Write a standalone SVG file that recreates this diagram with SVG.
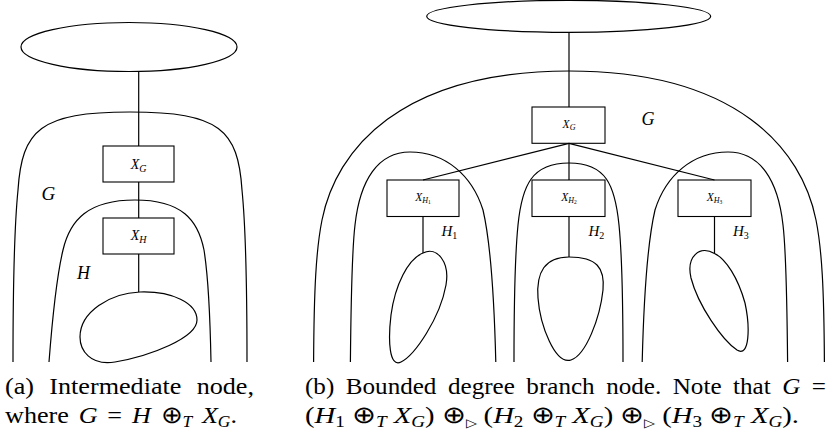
<svg xmlns="http://www.w3.org/2000/svg" width="834" height="436" viewBox="0 0 834 436">
<style>
.ln{fill:none;stroke:#000;stroke-width:1.2}
.bx{fill:none;stroke:#000;stroke-width:1.1}
.m{font-family:"Liberation Serif",serif;font-style:italic;fill:#000}
.up{font-style:normal}
.cap{font-family:"Liberation Serif",serif;font-size:24px;fill:#000}
.it{font-style:italic}
</style>
<rect width="834" height="436" fill="#fff"/>
<!-- (a) Intermediate node -->
<g id="a-regions">
<path id="a-G" class="ln" d="M13,362 C13,300 14,230 18,190 C22,130 40,112 130,112 C220,112 238,130 242,190 C246,230 247,300 247,362"/>
<path id="a-H" class="ln" d="M49,362 C53,310 57,275 63,250 C70,220 88,200 135,200 C182,200 198,220 204,250 C208,275 210,310 211,362"/>
</g>
<g id="a-connectors">
<line class="ln" x1="138.7" y1="71.5" x2="138.7" y2="146"/>
<line class="ln" x1="138.7" y1="182" x2="138.7" y2="218"/>
<line class="ln" x1="138.7" y1="254" x2="138.7" y2="292"/>
</g>
<g id="a-top"><ellipse class="ln" cx="129" cy="47" rx="108" ry="24.5"/></g>
<g id="a-XG"><rect class="bx" x="103" y="146" width="71" height="36"/>
<text class="m" x="138.7" y="169" font-size="14" text-anchor="middle">X<tspan font-size="10" dy="2.5">G</tspan></text></g>
<g id="a-XH"><rect class="bx" x="103" y="218" width="71" height="36"/>
<text class="m" x="138.7" y="240" font-size="14" text-anchor="middle">X<tspan font-size="10" dy="2.5">H</tspan></text></g>
<g id="a-blob"><path class="ln" d="M140,292 C172,291 197,303 197,320 C197,338 150,356 115,362 C90,366 80,350 80,337 C80,312 110,293 140,292 Z"/></g>
<text class="m" x="41.5" y="200" font-size="19">G</text>
<text class="m" x="77" y="279" font-size="18">H</text>
<text class="cap" x="5" y="394" word-spacing="8" textLength="249" lengthAdjust="spacingAndGlyphs">(a) Intermediate node,</text>
<text class="cap" x="5" y="423" word-spacing="3" textLength="232" lengthAdjust="spacingAndGlyphs">where <tspan class="it">G</tspan> = <tspan class="it">H</tspan> ⊕<tspan class="it" font-size="16" dy="4">T</tspan> <tspan dy="-4" class="it">X</tspan><tspan class="it" font-size="16" dy="4">G</tspan><tspan dy="-4">.</tspan></text>
<!-- (b) Bounded degree branch node -->
<g id="b-regions">
<path id="b-G" class="ln" d="M313.6,362 C314,290 316,250 322,220 C336,150 400,71 569,71 C738,71 802,150 816,220 C822,250 824,290 824.4,362"/>
<path id="b-H1" class="ln" d="M350.4,362 C351,300 352,250 355,225 C360,180 378,152 410,152 C445,152 472,175 483,210 C490,240 494,290 495.8,362"/>
<path id="b-H2" class="ln" d="M514,362 C514,300 515,255 518,225 C522,185 532,163 569,163 C606,163 615,185 619,225 C622,255 623,300 623,362"/>
<path id="b-H3" class="ln" d="M642.2,362 C644,290 648,240 655,210 C666,175 693,152 728,152 C760,152 778,180 783,225 C786,250 787,300 787.6,362"/>
</g>
<g id="b-connectors">
<line class="ln" x1="569" y1="32.5" x2="569" y2="107"/>
<line class="ln" x1="569" y1="143.3" x2="423" y2="180"/>
<line class="ln" x1="569" y1="143.3" x2="569" y2="180"/>
<line class="ln" x1="569" y1="143.3" x2="714.5" y2="180"/>
<line class="ln" x1="423" y1="216.5" x2="423" y2="253"/>
<line class="ln" x1="569" y1="216.5" x2="569" y2="257"/>
<line class="ln" x1="714.5" y1="216.5" x2="714.5" y2="253.5"/>
</g>
<g id="b-top"><ellipse class="ln" cx="568.7" cy="16.3" rx="142" ry="16"/></g>
<g id="b-XG"><rect class="bx" x="532" y="107" width="73" height="36.3"/>
<text class="m" x="569" y="128" font-size="11.5" text-anchor="middle">X<tspan font-size="8" dy="2">G</tspan></text></g>
<g id="b-XH1"><rect class="bx" x="387" y="180" width="72" height="36.5"/>
<text class="m" x="423" y="201" font-size="11.5" text-anchor="middle">X<tspan font-size="8" dy="2">H<tspan class="up" font-size="5.5" dy="1">1</tspan></tspan></text></g>
<g id="b-XH2"><rect class="bx" x="532" y="180" width="73" height="36.5"/>
<text class="m" x="569" y="201" font-size="11.5" text-anchor="middle">X<tspan font-size="8" dy="2">H<tspan class="up" font-size="5.5" dy="1">2</tspan></tspan></text></g>
<g id="b-XH3"><rect class="bx" x="678" y="180" width="73" height="36.5"/>
<text class="m" x="714.5" y="201" font-size="11.5" text-anchor="middle">X<tspan font-size="8" dy="2">H<tspan class="up" font-size="5.5" dy="1">3</tspan></tspan></text></g>
<g id="b-blob1"><path class="ln" d="M423,253 C437,246 450,262 446,285 C440,318 415,355 401,362 C389,368 388,340 391,315 C395,285 408,259 423,253 Z"/></g>
<g id="b-blob2"><path class="ln" d="M569,257 C597,257 605,268 603,290 C600,318 586,355 571,360 C555,365 540,325 538,298 C536,272 545,257 569,257 Z"/></g>
<g id="b-blob3"><path class="ln" d="M714.5,253.5 C700,245 686,256 691,278 C698,305 722,340 737,350 C750,358 750,326 745,303 C738,278 726,259 714.5,253.5 Z"/></g>
<text class="m" x="641.5" y="125" font-size="18">G</text>
<text class="m" x="441.5" y="236" font-size="15">H<tspan class="up" font-size="10" dy="3">1</tspan></text>
<text class="m" x="588.5" y="236" font-size="15">H<tspan class="up" font-size="10" dy="3">2</tspan></text>
<text class="m" x="733" y="236" font-size="15">H<tspan class="up" font-size="10" dy="3">3</tspan></text>
<text class="cap" x="305" y="394" word-spacing="5" textLength="521" lengthAdjust="spacingAndGlyphs">(b) Bounded degree branch node. Note that <tspan class="it">G</tspan> =</text>
<text class="cap" x="305" y="423" textLength="494" lengthAdjust="spacingAndGlyphs">(<tspan class="it">H</tspan><tspan font-size="16" dy="4">1</tspan><tspan dy="-4"> ⊕</tspan><tspan class="it" font-size="16" dy="4">T</tspan><tspan class="it" dy="-4"> X</tspan><tspan class="it" font-size="16" dy="4">G</tspan><tspan dy="-4">) ⊕</tspan><tspan font-size="12" dy="4">▷</tspan><tspan dy="-4"> (</tspan><tspan class="it">H</tspan><tspan font-size="16" dy="4">2</tspan><tspan dy="-4"> ⊕</tspan><tspan class="it" font-size="16" dy="4">T</tspan><tspan class="it" dy="-4"> X</tspan><tspan class="it" font-size="16" dy="4">G</tspan><tspan dy="-4">) ⊕</tspan><tspan font-size="12" dy="4">▷</tspan><tspan dy="-4"> (</tspan><tspan class="it">H</tspan><tspan font-size="16" dy="4">3</tspan><tspan dy="-4"> ⊕</tspan><tspan class="it" font-size="16" dy="4">T</tspan><tspan class="it" dy="-4"> X</tspan><tspan class="it" font-size="16" dy="4">G</tspan><tspan dy="-4">).</tspan></text>
</svg>
